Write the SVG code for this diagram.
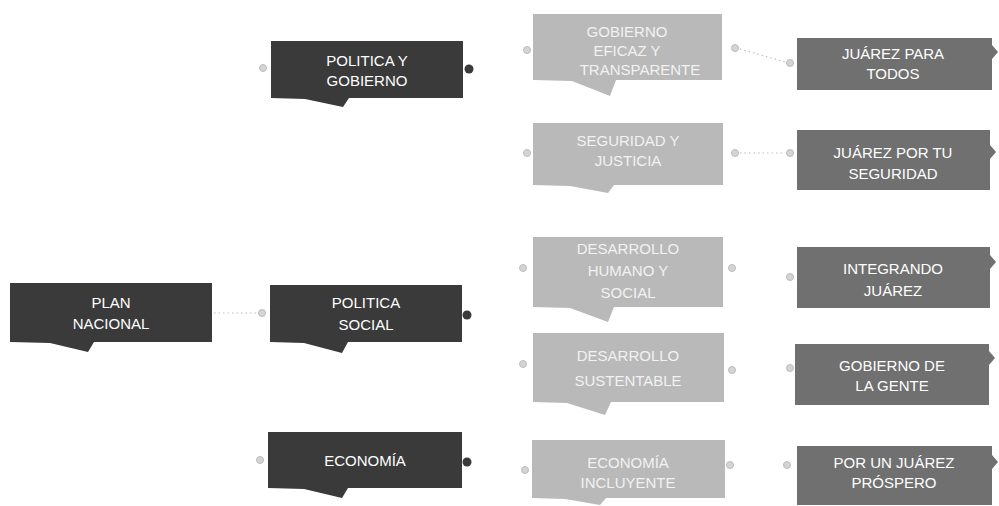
<svg xmlns="http://www.w3.org/2000/svg" width="999" height="506" viewBox="0 0 999 506">
<style>
.dark{fill:#3a3a3a}
.light{fill:#b9b9b9}
.mid{fill:#707070}
.t{font-family:"Liberation Sans",Arial,sans-serif;font-size:15px;fill:#ffffff;text-anchor:middle}
.tl{font-family:"Liberation Sans",Arial,sans-serif;font-size:15px;fill:#f2f2f2;text-anchor:middle}
.port{fill:#d4d4d4;stroke:#bdbdbd;stroke-width:1}
.dot{fill:#3a3a3a}
.conn{stroke:#bdbdbd;stroke-width:1.2;stroke-dasharray:1.5 3;fill:none}
</style>
<rect width="999" height="506" fill="#ffffff"/>
<g id="connectors">
<path class="conn" d="M214 313 H257"/>
<path class="conn" d="M740 49 L785 62"/>
<path class="conn" d="M740 153 H785"/>
</g>
<g id="plan-nacional">
<path class="dark" d="M10 283 H212 V342 H94 L88 352 L50 343 L10 342 Z"/>
<text class="t" x="111" y="307.5">PLAN</text>
<text class="t" x="111" y="328.5">NACIONAL</text>
</g>
<g id="politica-gobierno">
<path class="dark" d="M271 41 H463 V98 H349 L343 107 L305 99 L271 98 Z"/>
<circle class="port" cx="263" cy="68" r="3.5"/>
<circle class="dot" cx="469" cy="69" r="4.5"/>
<text class="t" x="367" y="65.5">POLITICA Y</text>
<text class="t" x="367" y="85.5">GOBIERNO</text>
</g>
<g id="politica-social">
<path class="dark" d="M270 285 H462 V342 H348 L342 353 L304 343 L270 342 Z"/>
<circle class="port" cx="262" cy="313" r="3.5"/>
<circle class="dot" cx="467" cy="315" r="4.5"/>
<text class="t" x="366" y="308">POLITICA</text>
<text class="t" x="366" y="330">SOCIAL</text>
</g>
<g id="economia">
<path class="dark" d="M268 432 H462 V488 H348 L342 498 L304 489 L268 488 Z"/>
<circle class="port" cx="260" cy="460" r="3.5"/>
<circle class="dot" cx="467" cy="462" r="4.5"/>
<text class="t" x="365" y="465.5">ECONOMÍA</text>
</g>
<g id="gobierno-eficaz">
<path class="light" d="M533 14 H722 V80 H616 L610 96 L572 81 L533 80 Z"/>
<circle class="port" cx="527" cy="50" r="3.5"/>
<circle class="port" cx="735" cy="48" r="3.5"/>
<text class="tl" x="627" y="36.5">GOBIERNO</text>
<text class="tl" x="627" y="55.5">EFICAZ Y</text>
<text class="tl" x="640" y="74.5">TRANSPARENTE</text>
</g>
<g id="seguridad-justicia">
<path class="light" d="M533 123 H723 V185 H614 L608 193 L570 186 L533 185 Z"/>
<circle class="port" cx="527" cy="153" r="3.5"/>
<circle class="port" cx="735" cy="153" r="3.5"/>
<text class="tl" x="628" y="145.5">SEGURIDAD Y</text>
<text class="tl" x="628" y="165.5">JUSTICIA</text>
</g>
<g id="desarrollo-humano">
<path class="light" d="M533 237 H723 V307 H614 L608 322 L570 308 L533 307 Z"/>
<circle class="port" cx="523" cy="268" r="3.5"/>
<circle class="port" cx="732" cy="268" r="3.5"/>
<text class="tl" x="628" y="254">DESARROLLO</text>
<text class="tl" x="628" y="276">HUMANO Y</text>
<text class="tl" x="628" y="298">SOCIAL</text>
</g>
<g id="desarrollo-sustentable">
<path class="light" d="M533 333 H724 V402 H611 L605 415 L567 403 L533 402 Z"/>
<circle class="port" cx="523" cy="364" r="3.5"/>
<circle class="port" cx="732" cy="370" r="3.5"/>
<text class="tl" x="628" y="360.5">DESARROLLO</text>
<text class="tl" x="628" y="385.5">SUSTENTABLE</text>
</g>
<g id="economia-incluyente">
<path class="light" d="M532 440 H725 V498 H606 L600 505 L565 499 L532 498 Z"/>
<circle class="port" cx="525" cy="470" r="3.5"/>
<circle class="port" cx="730" cy="465" r="3.5"/>
<text class="tl" x="628" y="467.5">ECONOMÍA</text>
<text class="tl" x="628" y="487.5">INCLUYENTE</text>
</g>
<g id="juarez-todos">
<path class="mid" d="M797 38 H992 V45 L998 52 L992 59 V90 H797 Z"/>
<circle class="port" cx="790" cy="63" r="3.5"/>
<text class="t" x="893" y="58.5">JUÁREZ PARA</text>
<text class="t" x="893" y="78.5">TODOS</text>
</g>
<g id="juarez-seguridad">
<path class="mid" d="M797 130 H990 V145 L996 152 L990 159 V190 H797 Z"/>
<circle class="port" cx="790" cy="153" r="3.5"/>
<text class="t" x="893" y="157.5">JUÁREZ POR TU</text>
<text class="t" x="893" y="178.5">SEGURIDAD</text>
</g>
<g id="integrando-juarez">
<path class="mid" d="M797 247 H990 V255 L996 262 L990 269 V308 H797 Z"/>
<circle class="port" cx="790" cy="277" r="3.5"/>
<text class="t" x="893" y="273.5">INTEGRANDO</text>
<text class="t" x="893" y="295.5">JUÁREZ</text>
</g>
<g id="gobierno-gente">
<path class="mid" d="M795 344 H989 V351 L995 358 L989 365 V405 H795 Z"/>
<circle class="port" cx="790" cy="368" r="3.5"/>
<text class="t" x="892" y="370.5">GOBIERNO DE</text>
<text class="t" x="892" y="390.5">LA GENTE</text>
</g>
<g id="juarez-prospero">
<path class="mid" d="M797 446 H992 V455 L998 462 L992 469 V505 H797 Z"/>
<circle class="port" cx="787" cy="465" r="3.5"/>
<text class="t" x="894" y="467.5">POR UN JUÁREZ</text>
<text class="t" x="894" y="487.5">PRÓSPERO</text>
</g>
</svg>
